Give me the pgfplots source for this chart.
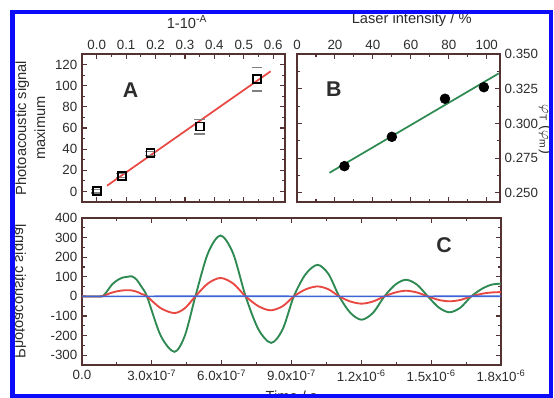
\documentclass[border=0pt]{standalone}
\usepackage{fontspec}
\setmainfont{Liberation Sans}
\usepackage{pgfplots}
\pgfplotsset{compat=1.18}

\definecolor{axcol}{RGB}{85,50,50}
\definecolor{fitred}{RGB}{232,72,66}
\definecolor{fitgreen}{RGB}{46,138,82}
\definecolor{lineblue}{RGB}{60,100,215}
\definecolor{frameblue}{RGB}{12,12,250}
\definecolor{txt}{RGB}{45,45,45}

\pgfplotsset{
  myax/.style={
    scale only axis,
    anchor=south west,
    axis line style={axcol, line width=1pt},
    tick style={axcol, line width=0.8pt},
    tick align=inside,
    major tick length=4pt,
    minor tick length=2.2pt,
    tick label style={font=\fontsize{10}{10}\selectfont, text=txt},
    label style={font=\fontsize{11}{14.3}\selectfont, text=txt},
    /pgf/number format/assume math mode=true,
  }
}

\begin{document}
\begin{tikzpicture}
\useasboundingbox[fill=white] (0,0) rectangle (415.5pt,-298.5pt);

% Panel A
\begin{axis}[myax, at={(61.5pt,-151.5pt)}, width=152.25pt, height=111pt,
  xmin=-0.05, xmax=0.64, ymin=-10, ymax=130,
  xtick={0,0.1,0.2,0.3,0.4,0.5,0.6}, ytick={0,20,40,60,80,100,120},
  minor tick num=1,
  xticklabel pos=right,
  xticklabel style={/pgf/number format/.cd, fixed, fixed zerofill, precision=1},
  xlabel={1-10\textsuperscript{-A}},
  xlabel style={at={(axis description cs:0.517,1.216)}, anchor=center},
  ylabel={Photoacoustic signal\\maximum},
  ylabel style={align=center, at={(axis description cs:-0.254,0.5)}, anchor=center},
]
\addplot[fitred, line width=1.3pt] coordinates {(0.035,5.4) (0.591,113.6)};
\addplot[only marks, mark=square, mark size=3pt, black, mark options={line width=1.4pt},
  error bars/.cd, y dir=both, y explicit, error mark=|,
  error bar style={draw opacity=0},
  error mark options={draw opacity=1, gray, mark size=4pt, line width=0.9pt}]
  coordinates {
    (0,0) +- (0,1.5)
    (0.085,14.9) +- (0,2)
    (0.183,36) +- (0,2)
    (0.35,61.4) +- (0,7)
    (0.545,106) +- (0,11)
  };
\node[font=\bfseries\fontsize{16}{16}\selectfont, text=txt] at (axis cs:0.115,96) {A};
\end{axis}

% Panel B
\begin{axis}[myax, at={(222.75pt,-151.5pt)}, width=152.25pt, height=111pt,
  xmin=0, xmax=107, ymin=0.2435, ymax=0.35,
  xtick={0,20,40,60,80,100}, ytick={0.25,0.275,0.3,0.325,0.35},
  minor tick num=1,
  xticklabel pos=right, yticklabel pos=right,
  yticklabel style={/pgf/number format/.cd, fixed, fixed zerofill, precision=3},
  xlabel={Laser intensity / \%},
  xlabel style={at={(axis description cs:0.565,1.23)}, anchor=center},
  ylabel={$\varphi_{\mathrm{T}}$ ($\varphi_{\mathrm{m}}$)},
  ylabel style={at={(axis description cs:1.225,0.49)}, anchor=center, rotate=180},
]
\addplot[fitgreen, line width=1.3pt] coordinates {(17.1,0.2645) (106.3,0.336)};
\addplot[only marks, mark=*, mark size=3.7pt, black] coordinates {
  (25,0.2693) (50,0.2904) (78,0.3178) (98.5,0.3261)
};
\node[font=\bfseries\fontsize{16}{16}\selectfont, text=txt] at (axis cs:19.4,0.325) {B};
\end{axis}

% Panel C
\begin{axis}[myax, at={(61.5pt,-273.75pt)}, width=314.25pt, height=110.25pt,
  xmin=0, xmax=1.8e-6, ymin=-350, ymax=400,
  xtick={0,3e-7,6e-7,9e-7,1.2e-6,1.5e-6,1.8e-6},
  xticklabels={0.0, 3.0x10\textsuperscript{-7}, 6.0x10\textsuperscript{-7}, 9.0x10\textsuperscript{-7}, 1.2x10\textsuperscript{-6}, 1.5x10\textsuperscript{-6}, 1.8x10\textsuperscript{-6}},
  scaled x ticks=false,
  ytick={-300,-200,-100,0,100,200,300,400},
  minor tick num=1,
  xlabel={Time / s},
  xlabel style={at={(axis description cs:0.5,-0.215)}, anchor=center},
  ylabel={Photoacoustic signal},
  ylabel style={at={(axis description cs:-0.15,0.5)}, anchor=center, yscale=-1},
]
\addplot[fitgreen, line width=1.4pt, smooth] coordinates {
  (0,0) (8.0e-8,0) (9.5e-8,8) (1.1e-7,30) (1.3e-7,62) (1.55e-7,85) (1.75e-7,96)
  (1.95e-7,100) (2.15e-7,102) (2.35e-7,85) (2.55e-7,50) (2.79e-7,0)
  (3.38e-7,-200) (3.97e-7,-283) (4.42e-7,-200) (4.87e-7,0)
  (5.41e-7,220) (5.95e-7,311) (6.49e-7,220) (7.03e-7,0)
  (7.58e-7,-168) (8.13e-7,-237) (8.62e-7,-168) (9.1e-7,0)
  (9.61e-7,114) (1.012e-6,161) (1.059e-6,114) (1.105e-6,0)
  (1.153e-6,-84) (1.201e-6,-119) (1.25e-6,-84) (1.299e-6,0)
  (1.346e-6,60) (1.392e-6,85) (1.439e-6,60) (1.486e-6,0)
  (1.533e-6,-57) (1.579e-6,-81) (1.626e-6,-57) (1.672e-6,0)
  (1.72e-6,40) (1.76e-6,60) (1.8e-6,65)
};
\addplot[fitred, line width=1.4pt, smooth] coordinates {
  (0,0) (8.5e-8,0) (1.0e-7,6) (1.2e-7,16) (1.5e-7,26) (1.8e-7,31) (2.1e-7,31)
  (2.35e-7,24) (2.55e-7,13) (2.79e-7,0)
  (3.38e-7,-60) (3.97e-7,-85) (4.42e-7,-60) (4.87e-7,0)
  (5.41e-7,66) (5.95e-7,94) (6.49e-7,66) (7.03e-7,0)
  (7.58e-7,-50) (8.1e-7,-71) (8.62e-7,-50) (9.1e-7,0)
  (9.61e-7,36) (1.012e-6,51) (1.059e-6,36) (1.105e-6,0)
  (1.153e-6,-26) (1.201e-6,-37) (1.25e-6,-26) (1.299e-6,0)
  (1.346e-6,20) (1.392e-6,29) (1.439e-6,20) (1.486e-6,0)
  (1.533e-6,-18) (1.579e-6,-25) (1.626e-6,-18) (1.672e-6,0)
  (1.72e-6,14) (1.76e-6,20) (1.8e-6,22)
};
\addplot[lineblue, line width=1.2pt] coordinates {
  (0,0) (6e-7,1) (1.2e-6,0) (1.8e-6,1)
};
\node[font=\bfseries\fontsize{16}{16}\selectfont, text=txt] at (axis cs:1.556e-6,263) {C};
\end{axis}

\draw[frameblue, line width=3.4pt] (9.4pt,-9pt) rectangle (413.25pt,-297pt);
\end{tikzpicture}
\end{document}
